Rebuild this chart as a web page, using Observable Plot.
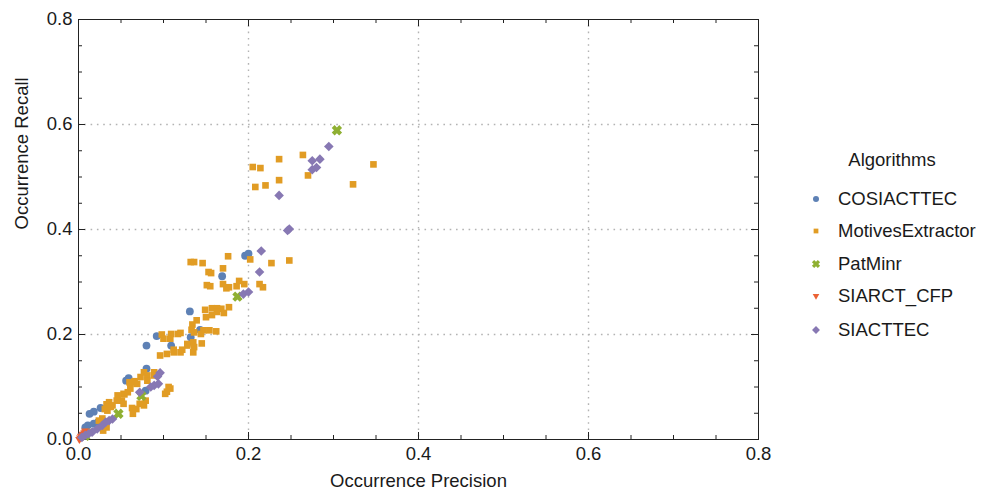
<!DOCTYPE html>
<html><head><meta charset="utf-8">
<script src="https://cdn.jsdelivr.net/npm/d3@7"></script>
<script src="https://cdn.jsdelivr.net/npm/@observablehq/plot@0.6"></script>
<style>
body{margin:0;background:#fff;}
#wrap{position:relative;width:989px;height:501px;font-family:"Liberation Sans",Arial,sans-serif;color:#1a1a1a;}
#wrap svg{display:block;}
.lg{position:absolute;font-size:18.5px;line-height:1;white-space:nowrap;}
</style></head><body><div id="wrap"></div>
<script>
// ---------- data ----------
const seriesNames = ["COSIACTTEC","MotivesExtractor","PatMinr","SIARCT_CFP","SIACTTEC"];
const seriesColors = ["#5E81B5","#E19C24","#8FB032","#EB6235","#8778B3"];
const legendTitle = "Algorithms";
const xLabel = "Occurrence Precision";
const yLabel = "Occurrence Recall";
const tickValues = [0,0.2,0.4,0.6,0.8];
const gridValues = [0.2,0.4,0.6];
const minorValues = [0.05,0.1,0.15,0.25,0.3,0.35,0.45,0.5,0.55,0.65,0.7,0.75];
const majorInner = [0.2,0.4,0.6];

const cosiacttec = [
 [0.196,0.350],[0.200,0.354],[0.169,0.311],[0.131,0.244],[0.143,0.209],[0.132,0.195],
 [0.092,0.197],[0.080,0.179],[0.109,0.179],[0.080,0.135],[0.059,0.117],[0.056,0.112],
 [0.079,0.093],[0.026,0.060],[0.018,0.053],[0.013,0.049],[0.008,0.023],[0.018,0.030],
 [0.023,0.033],[0.011,0.027],[0.004,0.008],[0.030,0.028]
];
const motivesExtractor = [
 [0.347,0.524],[0.323,0.486],[0.264,0.542],[0.270,0.503],[0.236,0.534],[0.236,0.494],
 [0.205,0.519],[0.214,0.517],[0.220,0.484],[0.208,0.481],
 [0.176,0.349],[0.132,0.338],[0.136,0.338],[0.146,0.336],[0.170,0.326],[0.202,0.343],
 [0.227,0.336],[0.248,0.341],[0.153,0.319],[0.156,0.317],[0.151,0.294],[0.155,0.292],
 [0.170,0.296],[0.174,0.288],[0.177,0.290],[0.186,0.292],[0.189,0.302],[0.195,0.296],
 [0.213,0.296],[0.217,0.290],
 [0.177,0.252],[0.149,0.247],[0.157,0.250],[0.163,0.250],[0.168,0.249],[0.171,0.241],
 [0.150,0.233],[0.157,0.237],[0.163,0.243],[0.139,0.227],[0.134,0.219],[0.133,0.209],
 [0.136,0.204],[0.147,0.208],[0.154,0.208],[0.162,0.206],[0.144,0.201],
 [0.098,0.200],[0.100,0.192],[0.109,0.201],[0.117,0.201],[0.120,0.203],[0.108,0.192],
 [0.128,0.182],[0.135,0.185],[0.145,0.183],[0.128,0.179],[0.136,0.176],[0.112,0.171],
 [0.122,0.171],[0.096,0.160],[0.104,0.163],[0.112,0.166],[0.120,0.166],[0.135,0.166],
 [0.089,0.128],[0.081,0.122],[0.073,0.119],[0.065,0.109],[0.061,0.106],[0.077,0.128],
 [0.106,0.100],[0.102,0.087],[0.108,0.097],[0.104,0.091],
 [0.053,0.087],[0.051,0.074],[0.053,0.068],[0.079,0.074],[0.077,0.065],[0.063,0.060],
 [0.060,0.109],[0.066,0.111],[0.046,0.084],[0.054,0.086],[0.058,0.090],
 [0.036,0.071],[0.040,0.065],[0.033,0.067],[0.031,0.058],[0.034,0.055],
 [0.072,0.068],[0.068,0.058],[0.064,0.049],[0.033,0.023],[0.029,0.017],[0.011,0.014],
 [0.028,0.040],[0.024,0.036],[0.038,0.062],[0.045,0.074],[0.061,0.097],[0.069,0.106],
 [0.081,0.112],[0.089,0.122]
];
const patMinr = [[0.304,0.589],[0.187,0.272],[0.074,0.083],[0.047,0.049],[0.008,0.007]];
const siarctCfp = [[0.001,0.000],[0.002,0.003],[0.003,0.006],[0.005,0.010],[0.007,0.013],[0.008,0.016]];
const siacttec = [
 [0.2945,0.558],[0.275,0.531],[0.284,0.534],[0.275,0.514],[0.280,0.518],[0.236,0.465],
 [0.248,0.401],[0.246,0.398],[0.215,0.359],[0.213,0.319],[0.194,0.277],[0.200,0.281],
 [0.096,0.127],[0.093,0.120],[0.089,0.103],[0.094,0.106],[0.085,0.100],[0.072,0.090],
 [0.040,0.039],[0.036,0.036],[0.032,0.033],[0.028,0.027],[0.022,0.020],[0.016,0.014],
 [0.012,0.011],[0.008,0.008],[0.004,0.004]
];

// ---------- symbols ----------
const rOf = size => Math.sqrt(size/Math.PI);
const poly = (ctx, pts) => { pts.forEach(([x,y],i)=> i?ctx.lineTo(x,y):ctx.moveTo(x,y)); ctx.closePath(); };
const symSquare = {draw(ctx,size){const s=rOf(size)*0.85; poly(ctx,[[-s,-s],[s,-s],[s,s],[-s,s]]);}};
const symDiamond = {draw(ctx,size){const h=rOf(size)*1.2; poly(ctx,[[0,-h],[h,0],[0,h],[-h,0]]);}};
const symTri = {draw(ctx,size){const r=rOf(size); poly(ctx,[[-r,-0.6*r],[r,-0.6*r],[0,1.1*r]]);}};
const symX = {draw(ctx,size){const r=rOf(size), a=r*1.1, w=r*0.42, c=Math.SQRT1_2;
  const pts=[[w,-a],[w,-w],[a,-w],[a,w],[w,w],[w,a],[-w,a],[-w,w],[-a,w],[-a,-w],[-w,-w],[-w,-a]]
    .map(([x,y])=>[(x-y)*c,(x+y)*c]);
  poly(ctx,pts);}};
const symbols = [d3.symbolCircle, symSquare, symX, symTri, symDiamond];
const seriesData = [cosiacttec, motivesExtractor, patMinr, siarctCfp, siacttec];
const radii = [3.9,3.9,4.8,4.2,4.0];

// ---------- plot ----------
const W=989,H=501,mL=78,mR=231,mT=19,mB=62;
const PW=W-mL-mR, PH=H-mT-mB;
const ink="#222";
const font='"Liberation Sans",Arial,sans-serif';
const marks = [
  Plot.gridX(gridValues,{stroke:"#b3b3b3",strokeOpacity:1,strokeWidth:1.4,strokeDasharray:"1.6,4.7"}),
  Plot.gridY(gridValues,{stroke:"#b3b3b3",strokeOpacity:1,strokeWidth:1.4,strokeDasharray:"1.6,4.7"}),
  Plot.ruleX(majorInner,{x:d=>d,insetTop:PH-7,stroke:ink}),
  Plot.ruleX(majorInner,{x:d=>d,insetBottom:PH-7,stroke:ink}),
  Plot.ruleX(minorValues,{x:d=>d,insetTop:PH-4,stroke:ink}),
  Plot.ruleX(minorValues,{x:d=>d,insetBottom:PH-4,stroke:ink}),
  Plot.ruleY(majorInner,{y:d=>d,insetRight:PW-7,stroke:ink}),
  Plot.ruleY(majorInner,{y:d=>d,insetLeft:PW-7,stroke:ink}),
  Plot.ruleY(minorValues,{y:d=>d,insetRight:PW-4,stroke:ink}),
  Plot.ruleY(minorValues,{y:d=>d,insetLeft:PW-4,stroke:ink}),
  Plot.frame({stroke:ink,strokeWidth:1}),
  Plot.axisX(tickValues,{tickSize:0,tickPadding:7,tickFormat:d3.format(".1f"),label:null,fontSize:18.5,fill:"#1a1a1a"}),
  Plot.axisY(tickValues,{tickSize:0,tickPadding:6,tickFormat:d3.format(".1f"),label:null,fontSize:18.5,fill:"#1a1a1a"}),
  Plot.text([xLabel],{frameAnchor:"bottom",dy:47,fontSize:18.5,fill:"#1a1a1a"}),
  Plot.text([yLabel],{frameAnchor:"left",dx:-56,rotate:-90,fontSize:18.5,fill:"#1a1a1a"})
];
seriesData.forEach((data,i)=>{
  marks.push(Plot.dot(data,{x:d=>d[0],y:d=>d[1],symbol:symbols[i],r:radii[i],fill:seriesColors[i],stroke:"none"}));
});
const chart = Plot.plot({
  width:W,height:H,marginLeft:mL,marginRight:mR,marginTop:mT,marginBottom:mB,
  x:{domain:[0,0.8]}, y:{domain:[0,0.8]},
  style:{fontFamily:font,fontSize:"18.5px",background:"white",overflow:"visible"},
  marks
});
const wrap=document.getElementById("wrap");
wrap.appendChild(chart);

// ---------- legend ----------
const t=document.createElement("div");
t.className="lg"; t.textContent=legendTitle;
t.style.left="892px"; t.style.top="160px"; t.style.transform="translate(-50%,-50%)";
wrap.appendChild(t);
const rowY=[198.5,231,263.5,296,329.5];
const lgR=[3.0,2.8,3.8,3.3,3.3];
seriesNames.forEach((name,i)=>{
  const ns="http://www.w3.org/2000/svg";
  const s=document.createElementNS(ns,"svg");
  s.setAttribute("width",20); s.setAttribute("height",20);
  s.style.position="absolute"; s.style.left=(816-10)+"px"; s.style.top=(rowY[i]-10)+"px";
  const p=document.createElementNS(ns,"path");
  p.setAttribute("d", d3.symbol(symbols[i], lgR[i]*lgR[i]*Math.PI)());
  p.setAttribute("transform","translate(10,10)");
  p.setAttribute("fill",seriesColors[i]);
  s.appendChild(p); wrap.appendChild(s);
  const d=document.createElement("div");
  d.className="lg"; d.textContent=name;
  d.style.left="838px"; d.style.top=rowY[i]+"px"; d.style.transform="translateY(-50%)";
  wrap.appendChild(d);
});
</script></body></html>
